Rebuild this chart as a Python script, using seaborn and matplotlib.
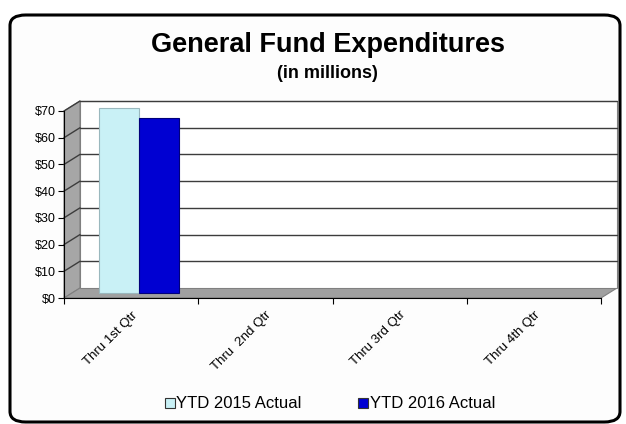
import numpy as np
import pandas as pd
import matplotlib
matplotlib.use("Agg")
import matplotlib.pyplot as plt
from matplotlib.patches import FancyBboxPatch, Polygon
from matplotlib.transforms import offset_copy
from matplotlib.lines import Line2D
import seaborn as sns

# data (in millions)
quarters = ["Thru 1st Qtr", "Thru  2nd Qtr", "Thru 3rd Qtr", "Thru 4th Qtr"]
ytd_2015 = [69.3, np.nan, np.nan, np.nan]
ytd_2016 = [65.5, np.nan, np.nan, np.nan]
series = ["YTD 2015 Actual", "YTD 2016 Actual"]
colors = ["#c9f1f6", "#0000d2"]
edges = ["#9ab8be", "#00007a"]
y_ticks = [0, 10, 20, 30, 40, 50, 60, 70]

df = pd.DataFrame({
    "quarter": quarters * 2,
    "series": [series[0]] * 4 + [series[1]] * 4,
    "value": ytd_2015 + ytd_2016,
})

sns.set_style("white")
plt.rcParams["font.family"] = ["Liberation Sans", "DejaVu Sans"]
plt.rcParams["text.color"] = "black"
plt.rcParams["xtick.color"] = "black"
plt.rcParams["ytick.color"] = "black"

W, H = 626, 424
fig = plt.figure(figsize=(W / 100, H / 100), dpi=100)
fig.patch.set_facecolor("white")

# rounded outer frame
frame = FancyBboxPatch((10 / W, 2 / H), 610 / W, (H - 15 - 2) / H,
                       boxstyle="round,pad=0,rounding_size=0.025",
                       transform=fig.transFigure, facecolor="#fdfdfd",
                       edgecolor="black", linewidth=2.2, zorder=-5)
fig.patches.append(frame)

# plot area (front plane)
x0, x1, yb, yt = 64, 601, 298, 111
ax = fig.add_axes([x0 / W, 1 - yb / H, (x1 - x0) / W, (yb - yt) / H])
ax.set_facecolor("none")

# 3d depth in pixels
dpx, dpy = 16, 10
dx, dy = dpx / (x1 - x0), dpy / (yb - yt)

# side wall, floor and back wall
ax.add_patch(Polygon([(0, 0), (dx, dy), (dx, 1 + dy), (0, 1)], closed=True,
                     transform=ax.transAxes, facecolor="#a6a6a6",
                     edgecolor="#7f7f7f", lw=0.8, clip_on=False, zorder=0))
ax.add_patch(Polygon([(0, 0), (1, 0), (1 + dx, dy), (dx, dy)], closed=True,
                     transform=ax.transAxes, facecolor="#a0a0a0",
                     edgecolor="#7f7f7f", lw=0.8, clip_on=False, zorder=0))
ax.add_patch(Polygon([(dx, dy), (1 + dx, dy), (1 + dx, 1 + dy), (dx, 1 + dy)],
                     closed=True, transform=ax.transAxes, facecolor="white",
                     edgecolor="#808080", lw=0.8, clip_on=False, zorder=0))
back = offset_copy(ax.transData, fig=fig, x=dpx, y=dpy, units="dots")
for v in y_ticks[1:]:
    ax.plot([-0.5, 3.5], [v, v], transform=back, color="#3c3c3c",
            lw=1.0, clip_on=False, zorder=1)
    # diagonal on the side wall
    ya = v / 70
    ax.plot([0, dx], [ya, ya + dy], transform=ax.transAxes,
            color="#3c3c3c", lw=1.0, clip_on=False, zorder=1)

sns.barplot(data=df, x="quarter", y="value", hue="series", order=quarters,
            hue_order=series, palette=colors, width=0.6, ax=ax,
            saturation=1, legend=False, zorder=3)
shift = offset_copy(ax.transData, fig=fig, x=dpx / 2, y=dpy / 2, units="dots")
for i, cont in enumerate(ax.containers):
    for bar in cont:
        bar.set_transform(shift)
        bar.set_edgecolor(edges[i])
        bar.set_linewidth(0.8)
        bar.set_clip_on(False)

ax.set_xlim(-0.5, 3.5)
ax.set_ylim(0, 70)
ax.set_yticks(y_ticks)
ax.set_yticklabels(["$%d" % v for v in y_ticks], fontsize=9)
ax.set_xticks(range(4))
ax.set_xticklabels(quarters, rotation=45, ha="right", va="top",
                   rotation_mode="anchor", fontsize=9.5)
ax.set_xticks(np.arange(-0.5, 4, 1), minor=True)
ax.tick_params(axis="x", which="major", length=0, pad=8)
ax.tick_params(axis="x", which="minor", length=4, width=0.8, direction="out",
               bottom=True)
ax.tick_params(axis="y", length=4, width=0.8, direction="out", pad=2, left=True)
ax.set_xlabel("")
ax.set_ylabel("")
for s in ["top", "right"]:
    ax.spines[s].set_visible(False)
for s in ["left", "bottom"]:
    ax.spines[s].set_color("black")
    ax.spines[s].set_linewidth(0.8)

fig.text(328 / W, 1 - 52 / H, "General Fund Expenditures", ha="center",
         va="baseline", fontsize=19.5, fontweight="bold")
fig.text(327 / W, 1 - 78 / H, "(in millions)", ha="center", va="baseline",
         fontsize=13, fontweight="bold")

handles = [Line2D([], [], marker="s", ls="", markersize=7.5,
                  markerfacecolor=colors[i], markeredgecolor="#333333",
                  markeredgewidth=0.8) for i in range(2)]
fig.legend(handles, series, loc="center", bbox_to_anchor=(330 / W, 1 - 404 / H),
           ncol=2, frameon=False, fontsize=12, handlelength=0.6,
           handletextpad=0.1, columnspacing=3.4)

fig.savefig("out.png", dpi=100)
